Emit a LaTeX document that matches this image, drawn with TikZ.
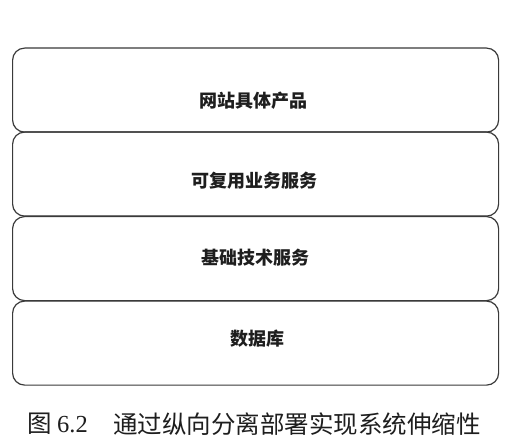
\documentclass[tikz,border=0pt]{standalone}
\usepackage{fontspec}
\newfontfamily\cjk{Noto Sans CJK SC}
\newfontfamily\serifnum{Liberation Serif}
\usetikzlibrary{positioning}
\definecolor{linegray}{HTML}{3A3A3A}
\definecolor{textgray}{HTML}{1E1E1E}
\begin{document}
\begin{tikzpicture}[x=1pt,y=-1pt,
  layerbox/.style={draw=linegray, line width=1.2pt, rounded corners=12pt, minimum width=486pt, minimum height=84pt, inner sep=0pt, anchor=north west},
  layertext/.style={font=\cjk\bfseries\fontsize{18}{18}\selectfont, text=textgray, inner sep=0pt},
  captext/.style={font=\cjk\fontsize{24.5}{24.5}\selectfont, text=textgray, inner sep=0pt, anchor=west}]
\useasboundingbox (0,0) rectangle (511,446);
\fill[white] (0,0) rectangle (511,446);
\node[layerbox] (b1) at (12,47.5) {};
\node[layerbox] (b2) at (12,131.5) {};
\node[layerbox] (b3) at (12,216) {};
\node[layerbox] (b4) at (12,300.5) {};
\node[layertext] (t1) at (253,101) {网站具体产品};
\node[layertext] (t2) at (254.5,180.5) {可复用业务服务};
\node[layertext] (t3) at (255.5,258) {基础技术服务};
\node[layertext] (t4) at (257.5,339) {数据库};
\node[captext] (c1) at (27,424) {图};
\node[captext, font=\serifnum\fontsize{24.5}{24.5}\selectfont] (c2) at (57,424.5) {6.2};
\node[captext] (c3) at (113,424) {通过纵向分离部署实现系统伸缩性};
\end{tikzpicture}
\end{document}
